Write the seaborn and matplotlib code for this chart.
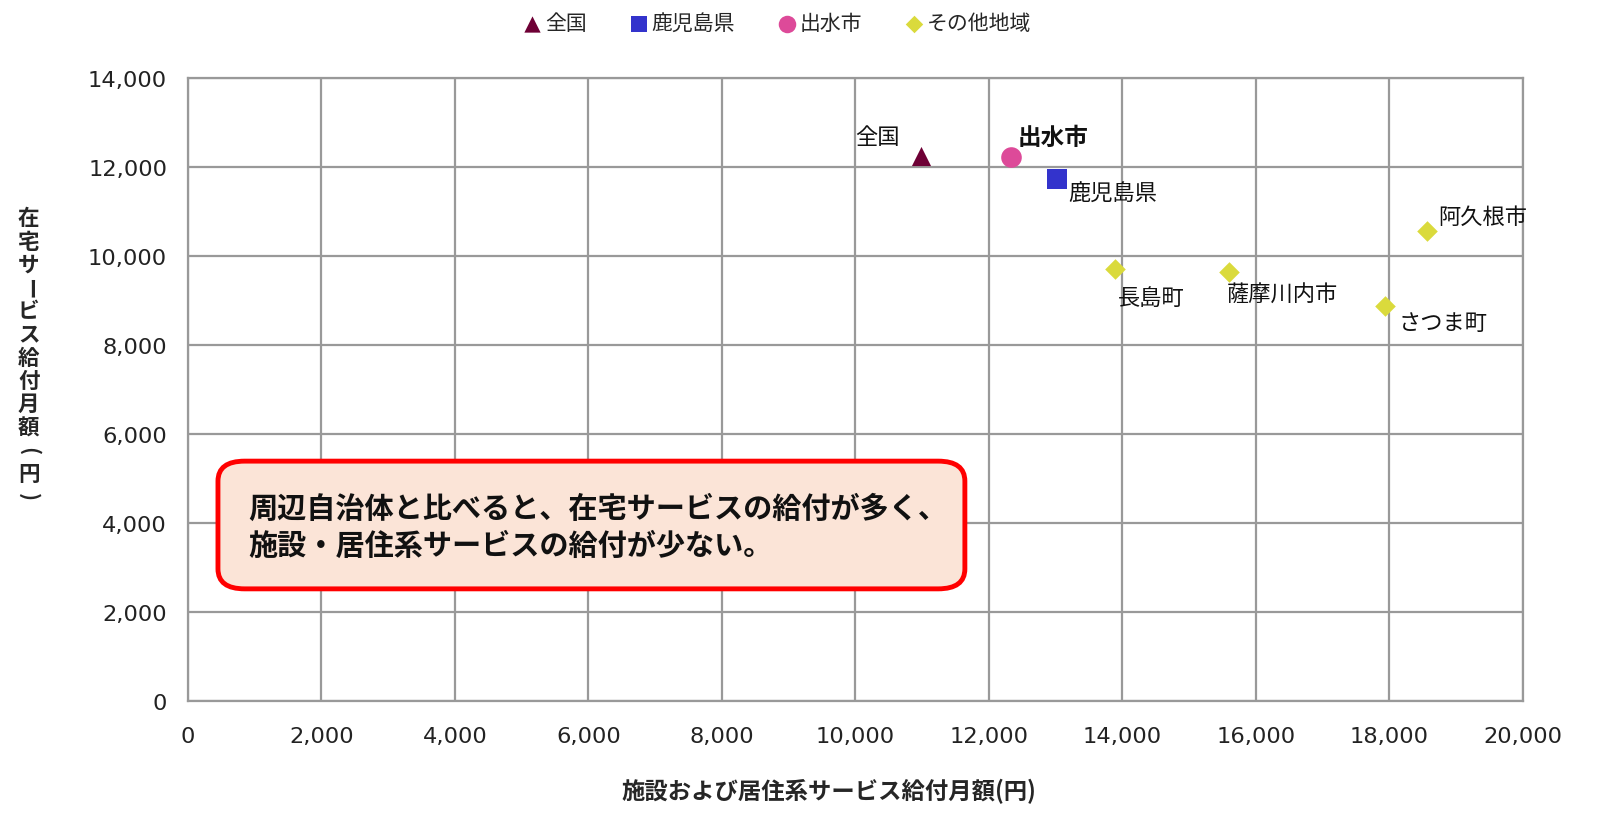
import matplotlib
matplotlib.use('Agg')
import matplotlib.pyplot as plt
import seaborn as sns
import pandas as pd
from matplotlib.patches import FancyBboxPatch

# ============================================================
# DATA
# ============================================================
names = ['全国', '鹿児島県', '出水市', '長島町', '薩摩川内市', 'さつま町', '阿久根市']
groups = ['全国', '鹿児島県', '出水市', 'その他地域', 'その他地域', 'その他地域', 'その他地域']
facility = [10980, 13020, 12330, 13890, 15600, 17930, 18560]
home = [12250, 11730, 12220, 9710, 9640, 8880, 10560]

group_order = ['全国', '鹿児島県', '出水市', 'その他地域']
palette = {'全国': '#6E0035', '鹿児島県': '#3333CC', '出水市': '#DD4A99', 'その他地域': '#DADA3C'}
markers = {'全国': '^', '鹿児島県': 's', '出水市': 'o', 'その他地域': 'D'}
sizes = {'全国': 190, '鹿児島県': 200, '出水市': 220, 'その他地域': 110}

df = pd.DataFrame({'name': names, 'group': groups, 'x': facility, 'y': home})

sns.set_style('white')
plt.rcParams['font.family'] = ['DejaVu Sans', 'Noto Sans CJK JP']
JP = ['Noto Sans CJK JP', 'DejaVu Sans']

fig = plt.figure(figsize=(15.98, 8.2), dpi=100)
ax = fig.add_axes([0.1176, 0.1439, 0.8354, 0.7598])

for g in group_order:
    sub = df[df['group'] == g]
    sns.scatterplot(data=sub, x='x', y='y', ax=ax, color=palette[g], marker=markers[g],
                    s=sizes[g], linewidth=0, label=g, zorder=3)

ax.set_xlim(0, 20000)
ax.set_ylim(0, 14000)
ax.set_xticks(range(0, 20001, 2000))
ax.set_yticks(range(0, 14001, 2000))
ax.xaxis.set_major_formatter(matplotlib.ticker.FuncFormatter(lambda v, p: f'{int(v):,}'))
ax.yaxis.set_major_formatter(matplotlib.ticker.FuncFormatter(lambda v, p: f'{int(v):,}'))
ax.tick_params(axis='both', labelsize=16.2, length=0, colors='#222222')
ax.tick_params(axis='x', pad=18)
ax.tick_params(axis='y', pad=15)
ax.grid(True, color='#999999', linewidth=1.6)
ax.set_axisbelow(True)
for sp in ax.spines.values():
    sp.set_color('#999999')
    sp.set_linewidth(1.6)

# axis labels
ax.set_xlabel('施設および居住系サービス給付月額(円)', fontsize=16.8, fontweight='bold',
              family=JP)
ax.xaxis.set_label_coords(0.48, -0.123)
ax.set_ylabel('')

# vertical y label, one character at a time (brackets and long vowel turned)
ylab = '在宅サービス給付月額(円)'
y0, step = 0.733, 0.0283
for i, ch in enumerate(ylab):
    rot = -90 if ch in '()ー' else 0
    fig.text(0.018, y0 - i * step, ch, fontsize=15.5, fontweight='bold', family=JP,
             ha='center', va='center', rotation=rot)

# point labels
offsets = {
    '全国': (-47, 6, 'left', 'bottom', 'normal'),
    '出水市': (5, 6, 'left', 'bottom', 'bold'),
    '鹿児島県': (8, -2, 'left', 'top', 'normal'),
    '長島町': (2, -12, 'left', 'top', 'normal'),
    '薩摩川内市': (-2, -8, 'left', 'top', 'normal'),
    'さつま町': (10, -4, 'left', 'top', 'normal'),
    '阿久根市': (8, 2, 'left', 'bottom', 'normal'),
}
for _, r in df.iterrows():
    dx, dy, ha, va, fw = offsets[r['name']]
    ax.annotate(r['name'], (r['x'], r['y']), xytext=(dx, dy), textcoords='offset points',
                ha=ha, va=va, fontsize=16 if fw == 'normal' else 17, fontweight=fw,
                family=JP, color='#111111', zorder=4)

# legend
leg = ax.legend(loc='lower center', bbox_to_anchor=(0.44, 1.04), ncol=4, frameon=False,
                prop={'family': JP, 'size': 15}, handletextpad=0.0, columnspacing=1.9,
                markerscale=0.85, handlelength=1.2)

# comment box
box = FancyBboxPatch((0.0225, 0.18), 0.5595, 0.205, boxstyle='round,pad=0,rounding_size=0.02',
                     transform=ax.transAxes, facecolor='#FBE4D7', edgecolor='#FF0000',
                     linewidth=3.5, zorder=5, mutation_aspect=1.6)
ax.add_patch(box)
ax.text(0.045, 0.281, '周辺自治体と比べると、在宅サービスの給付が多く、\n施設・居住系サービスの給付が少ない。',
        transform=ax.transAxes, fontsize=21, fontweight='bold', family=JP, va='center',
        ha='left', linespacing=1.3, zorder=6, color='#111111')

fig.savefig('out.png', dpi=100)
